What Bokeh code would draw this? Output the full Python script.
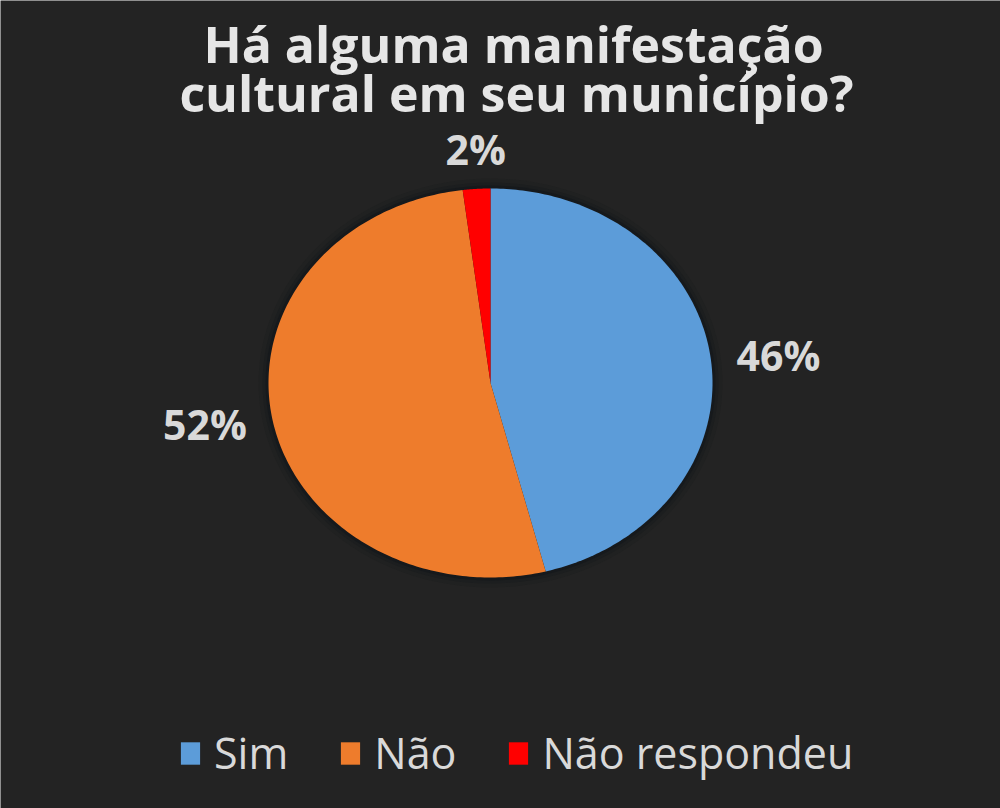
import numpy as np
from bokeh.plotting import figure
from bokeh.models import Range1d, Legend, LegendItem, ColumnDataSource
from bokeh.core.properties import value
from bokeh.embed import file_html
from bokeh.resources import INLINE

# ---- data ----
TITLE_LINES = ["Há alguma manifestação", "cultural em seu município?"]
CATEGORIES = ["Sim", "Não", "Não respondeu"]
PERCENTS = [46, 52, 2]
LABELS = ["46%", "52%", "2%"]
COLORS = ["#5C9CD9", "#EE7C2C", "#FF0000"]

# ---- layout / style ----
W, H = 1000, 808
BG = "#232323"
CX, CY = 490, H - 382.5   # pie centre (data units == pixels)
RX, RY = 222, 194.5       # elliptical pie radii

p = figure(width=W, height=H, x_range=Range1d(0, W), y_range=Range1d(0, H),
           x_axis_type=None, y_axis_type=None, toolbar_location=None,
           output_backend="svg", min_border=0)
p.grid.visible = False
p.outline_line_color = None
p.background_fill_color = BG
p.border_fill_color = BG

# soft shadow around the pie
for k, a in [(10, 0.10), (6, 0.18), (3, 0.35)]:
    p.ellipse(x=CX, y=CY, width=2 * (RX + k), height=2 * (RY + k),
              fill_color="#0b1018", fill_alpha=a, line_color=None)

# slices (clockwise from 12 o'clock)
vals = np.array(PERCENTS, dtype=float)
frac = vals / vals.sum()
ends = np.cumsum(frac) * 2 * np.pi
starts = ends - frac * 2 * np.pi
xs, ys = [], []
for s, e in zip(starts, ends):
    t = np.linspace(s, e, 200)
    xs.append(np.concatenate([[CX], CX + RX * np.sin(t), [CX]]).tolist())
    ys.append(np.concatenate([[CY], CY + RY * np.cos(t), [CY]]).tolist())
src = ColumnDataSource(dict(xs=xs, ys=ys, color=COLORS, cat=CATEGORIES))
slices = p.patches("xs", "ys", source=src, fill_color="color",
                   line_color=None)

# data labels (outside end)
mids = (starts + ends) / 2
side_pad, vert_pad = 26, 12
lx, ly, al, bl = [], [], [], []
for m in mids:
    sx, cy = np.sin(m), np.cos(m)
    if abs(sx) > 0.5:
        pad = side_pad
        al.append("left" if sx > 0 else "right"); bl.append("middle")
    else:
        pad = vert_pad
        al.append("center"); bl.append("bottom" if cy > 0 else "top")
    lx.append(CX + RX * sx + pad * sx)
    ly.append(CY + RY * cy + pad * cy)
lsrc = ColumnDataSource(dict(x=lx, y=ly, text=LABELS, align=al, base=bl))
p.text(x="x", y="y", text="text", source=lsrc, text_align="align",
       text_baseline="base", text_font=value("Open Sans"),
       text_font_style="bold", text_font_size="41px",
       text_color="#D9D9D9")

# title
tsrc = ColumnDataSource(dict(x=[513, 516], y=[H - 43, H - 92],
                             text=TITLE_LINES))
p.text(x="x", y="y", text="text", source=tsrc, text_align="center",
       text_baseline="middle", text_font=value("Open Sans"),
       text_font_style="bold", text_font_size="50px",
       text_color="#E6E6E6")

# legend
items = [LegendItem(label=c, renderers=[slices], index=i)
         for i, c in enumerate(CATEGORIES)]
legend = Legend(items=items, orientation="horizontal", location=(178, 26),
                glyph_width=24, glyph_height=28, label_standoff=12,
                spacing=50, padding=0, margin=0,
                border_line_alpha=0, background_fill_alpha=0,
                label_text_font="Open Sans", label_text_font_size="43px",
                label_text_color="#D9D9D9", label_height=30)
p.add_layout(legend, "center")

open("out.html", "w").write(file_html(p, INLINE))
